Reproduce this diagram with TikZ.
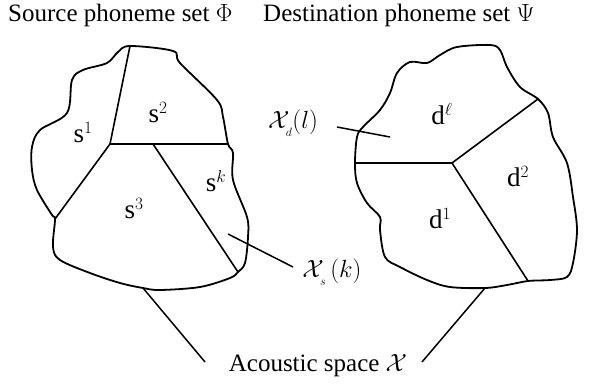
\documentclass[tikz,border=0pt]{standalone}
\usepackage{fontspec}
\setmainfont{Liberation Serif}
\begin{document}
\begin{tikzpicture}[x=1pt,y=-1pt,
  outline/.style={line width=1.8pt, line join=round},
  part/.style={line width=1.6pt},
  lead/.style={line width=1.5pt},
  lbl/.style={font=\fontsize{25}{29}\selectfont, inner sep=0pt},
  reg/.style={font=\fontsize{27}{31}\selectfont, inner sep=0pt}]
\useasboundingbox (0,0) rectangle (603,389);
% junction coordinates
\coordinate (A) at (130,46);
\coordinate (B) at (228,144);
\coordinate (C) at (238,272);
\coordinate (D) at (55,219);
\coordinate (M) at (110,144);
\coordinate (N) at (153,144);
\coordinate (L) at (143,288);
\coordinate (E) at (355,163);
\coordinate (F) at (538,99);
\coordinate (G) at (528,281);
\coordinate (P) at (452,163);
\coordinate (R) at (485,288);
% left blob
\draw[outline] plot[smooth cycle, tension=0.55] coordinates {
 (130,46) (173,51) (180,63) (217,100) (223,117) (228,144) (233,153) (233,180)
 (247,217) (248,237) (245,263) (238,272) (230,278) (200,287) (160,290) (143,288)
 (120,283) (90,273) (60,260) (53,247) (55,219) (52,215) (37,190) (32,170)
 (32,147) (40,130) (67,113) (72,80) (83,70) (107,63) (118,52)};
% right blob
\draw[outline] plot[smooth cycle, tension=0.55] coordinates {
 (355,163) (357,137) (363,127) (380,110) (390,93) (397,73) (410,62) (427,63)
 (440,55) (457,47) (490,45) (500,50) (507,67) (520,87) (538,99) (548,113)
 (553,137) (567,163) (573,197) (577,230) (573,263) (567,277) (550,280) (528,281)
 (507,285) (485,288) (450,287) (427,280) (400,267) (385,257) (380,230) (380,217)
 (367,203) (357,183)};
% partitions
\draw[part] (A) -- (M) -- (B);
\draw[part] (M) -- (D);
\draw[part] (N) -- (C);
\draw[part] (E) -- (P) -- (F);
\draw[part] (P) -- (G);
% texts
\node[lbl, anchor=base west] (t1) at (8,21) {Source phoneme set $\Phi$};
\node[lbl, anchor=base west] (t2) at (263,21) {Destination phoneme set $\Psi$};
\node[reg] (s1) at (83,133) {s$^1$};
\node[reg] (s2) at (158,113) {s$^2$};
\node[reg] (s3) at (134,209) {s$^3$};
\node[reg] (sk) at (216,181) {s$^{k}$};
\node[reg] (dl) at (442,114) {d$^{\ell}$};
\node[reg] (d2) at (518,177) {d$^2$};
\node[reg] (d1) at (440,219) {d$^1$};
\node[lbl] (xd) at (293,123) {$\mathcal{X}_{\lower4pt\hbox{$\scriptscriptstyle d$}}(l)$};
\node[lbl] (xs) at (332,272) {$\mathcal{X}_{\lower4pt\hbox{$\scriptscriptstyle s$}}\,(k)$};
\node[lbl] (ac) at (318,366) {Acoustic space $\mathcal{X}$};
% leaders
\coordinate (xdA) at (337,127);
\coordinate (xdB) at (390,137);
\coordinate (xsA) at (228,234);
\coordinate (xsB) at (293,267);
\coordinate (acL) at (205,362);
\coordinate (acR) at (422,362);
\draw[lead] (xdA) -- (xdB);
\draw[lead] (xsA) -- (xsB);
\draw[lead] (L) -- (acL);
\draw[lead] (R) -- (acR);
\end{tikzpicture}
\end{document}
